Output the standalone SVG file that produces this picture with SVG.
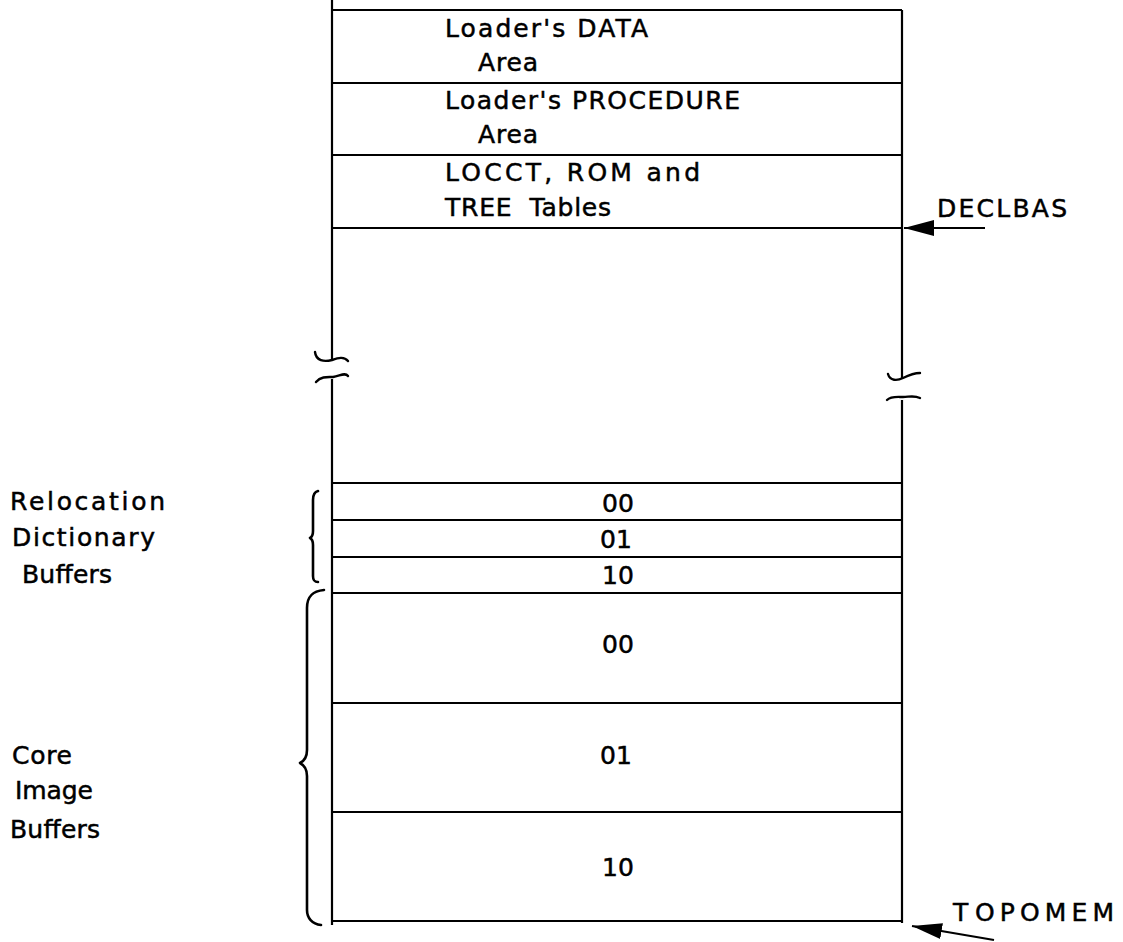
<svg xmlns="http://www.w3.org/2000/svg" width="1123" height="942" viewBox="0 0 1123 942">
<style>
  .ln{stroke:#000;stroke-width:2.2;fill:none;stroke-linecap:butt}
  .sq{stroke:#000;stroke-width:2.4;fill:none;stroke-linecap:round}
  .br{stroke:#000;stroke-width:2.6;fill:none;stroke-linecap:round;stroke-linejoin:round}
  text{font-family:"DejaVu Sans","Liberation Sans",sans-serif;font-size:25px;fill:#000;stroke:#000;stroke-width:0.5}
</style>
<defs>
  <marker id="ahb" viewBox="0 0 30 16" refX="30" refY="8" markerWidth="30" markerHeight="16" markerUnits="userSpaceOnUse" orient="auto">
    <path d="M0,0 L30,8 L0,16 Z" fill="#000"/>
  </marker>
</defs>
<rect width="1123" height="942" fill="#fff"/>

<g id="walls">
  <path class="ln" d="M332,0 V360 M332,379 V925"/>
  <path class="ln" d="M902,10 V378 M902,400 V923"/>
  <path class="sq" d="M315,352 C316,361 324,362 332,360 C338,358 344,356 348,361"/>
  <path class="sq" d="M316,382 C321,376 328,377 333,377 C340,376 345,372 348,376"/>
  <path class="sq" d="M888,374 C890,381 897,381 903,378 C909,375 914,373 920,373"/>
  <path class="sq" d="M887,400 C891,396 897,397 903,397 C909,397 914,395 920,398"/>
  <line class="ln" x1="333" y1="10" x2="902" y2="10"/>
</g>

<g id="data-area">
  <line class="ln" x1="333" y1="83" x2="902" y2="83"/>
  <text x="445" y="37" textLength="203">Loader's DATA</text>
  <text x="478" y="71" textLength="60">Area</text>
</g>
<g id="procedure-area">
  <line class="ln" x1="333" y1="155" x2="902" y2="155"/>
  <text x="445" y="109" textLength="295">Loader's PROCEDURE</text>
  <text x="478" y="143" textLength="60">Area</text>
</g>
<g id="tables">
  <line class="ln" x1="333" y1="228" x2="902" y2="228"/>
  <text x="445" y="181" textLength="255">LOCCT, ROM and</text>
  <text x="445" y="216" textLength="166" xml:space="preserve">TREE  Tables</text>
</g>

<g id="rld-buffers">
  <line class="ln" x1="333" y1="483" x2="902" y2="483"/>
  <line class="ln" x1="333" y1="520" x2="902" y2="520"/>
  <line class="ln" x1="333" y1="557" x2="902" y2="557"/>
  <text x="618" y="512" text-anchor="middle">00</text>
  <text x="616" y="548" text-anchor="middle">01</text>
  <text x="618" y="584" text-anchor="middle">10</text>
</g>
<g id="core-buffers">
  <line class="ln" x1="333" y1="593" x2="902" y2="593"/>
  <line class="ln" x1="333" y1="703" x2="902" y2="703"/>
  <line class="ln" x1="333" y1="812" x2="902" y2="812"/>
  <line class="ln" x1="333" y1="921" x2="902" y2="921"/>
  <text x="618" y="653" text-anchor="middle">00</text>
  <text x="616" y="764" text-anchor="middle">01</text>
  <text x="618" y="876" text-anchor="middle">10</text>
</g>

<g id="rld-label">
  <path class="br" d="M318,491 C314,492 313,495 313,500 V531 C313,535 312,537 310,538 C312,539 313,541 313,545 V576 C313,580 314,582 318,582"/>
  <text x="10" y="510" textLength="155">Relocation</text>
  <text x="12" y="546" textLength="143">Dictionary</text>
  <text x="22" y="583" textLength="90">Buffers</text>
</g>
<g id="core-label">
  <path class="br" d="M324,590 C313,591 307,596 307,608 V750 C307,757 304,761 300,763 C304,765 307,769 307,776 V910 C307,918 312,924 321,925"/>
  <text x="12" y="764" textLength="60">Core</text>
  <text x="15" y="799" textLength="78">Image</text>
  <text x="10" y="838" textLength="90">Buffers</text>
</g>

<g id="pointers">
  <text x="937" y="217" textLength="130">DECLBAS</text>
  <text y="921" xml:space="preserve"><tspan x="953">T </tspan><tspan x="975" textLength="139">OPOMEM</tspan></text>
</g>

<g id="connectors">
  <line class="ln" x1="985" y1="228" x2="904" y2="228" marker-end="url(#ahb)"/>
  <line class="ln" x1="994" y1="940" x2="912" y2="926" marker-end="url(#ahb)"/>
</g>
</svg>
